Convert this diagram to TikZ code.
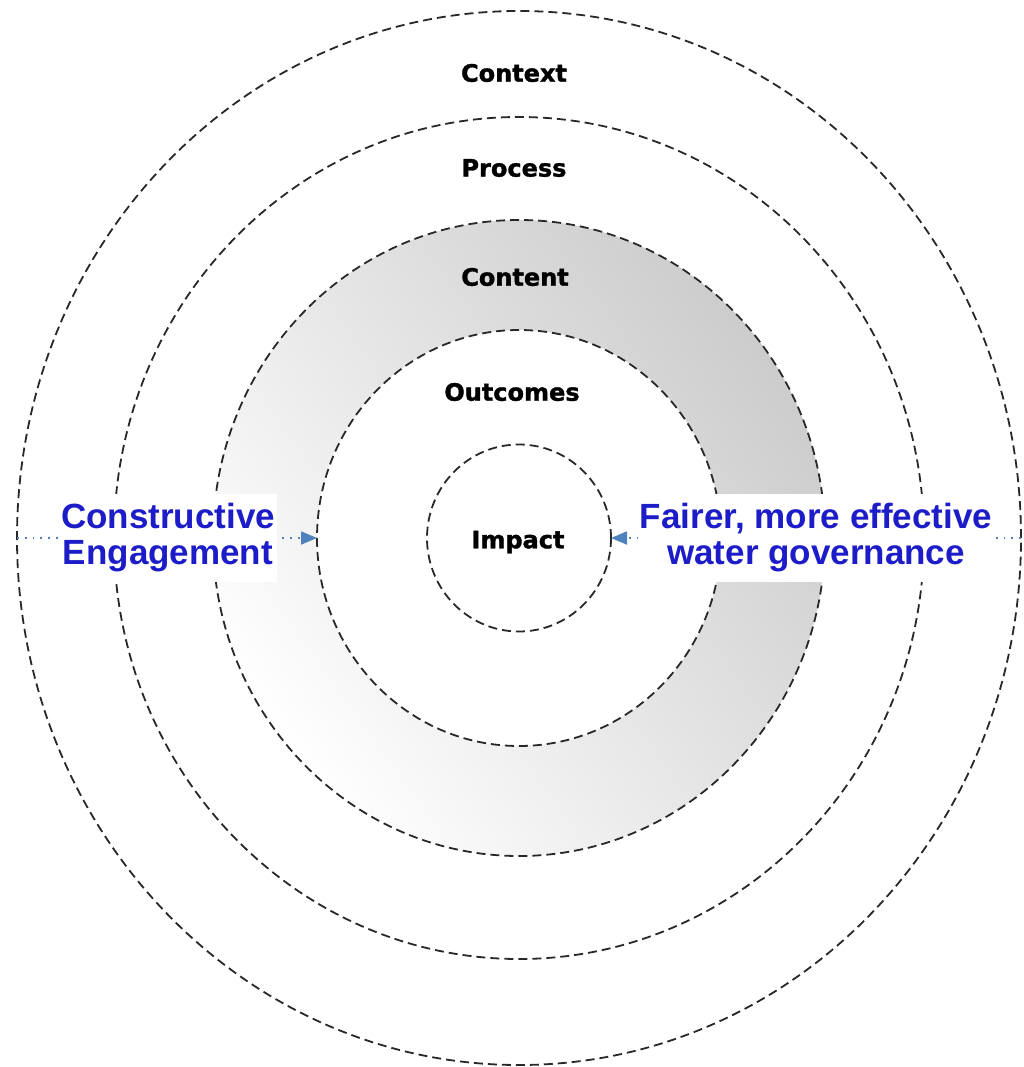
\documentclass[tikz,border=0pt]{standalone}
\usepackage{fontspec}
\setmainfont{Liberation Sans}
\newfontfamily\heavyfont[FakeBold=1.4]{DejaVu Sans Bold}
\usetikzlibrary{positioning, arrows.meta, shapes.geometric}
\definecolor{ringline}{RGB}{40,40,40}
\definecolor{callblue}{RGB}{28,28,200}
\definecolor{arrowblue}{RGB}{79,129,189}
\tikzset{
    ringnode/.style  = {draw=ringline, ellipse, line width=1.8pt, inner sep=0pt,
                        outer sep=0pt, dash pattern=on 9pt off 5pt},
    layerlbl/.style  = {font=\heavyfont\fontsize{24}{30}\selectfont, inner sep=1pt},
    calllbl/.style   = {font=\bfseries\fontsize{35}{36}\selectfont, text=callblue,
                        fill=white, align=center, inner xsep=2pt, inner ysep=10pt},
    pointer/.style   = {arrowblue, line width=1.8pt, dash pattern=on 1.8pt off 6pt,
                        -{Triangle[length=16pt, width=13pt]}},
}

\begin{document}
\begin{tikzpicture}[x=1pt, y=-1pt]
\useasboundingbox (0,0) rectangle (1023,1067);
\coordinate (ctr) at (519,538);

% shaded content band
\shade[top color=black!20, bottom color=white, shading angle=-54]
    (ctr) ellipse [x radius=306, y radius=318];
\fill[white] (ctr) ellipse [x radius=202, y radius=208];

% rings
\node[ringnode, minimum width=1004pt, minimum height=1054pt] (context)  at (ctr) {};
\node[ringnode, minimum width=810pt,  minimum height=842pt]  (process)  at (ctr) {};
\node[ringnode, minimum width=612pt,  minimum height=636pt]  (content)  at (ctr) {};
\node[ringnode, minimum width=404pt,  minimum height=416pt]  (outcomes) at (ctr) {};
\node[ringnode, minimum width=184pt,  minimum height=187pt]  (impact)   at (ctr) {};

% ring labels
\node[layerlbl] (contextlbl)  at (514,73)  {Context};
\node[layerlbl] (processlbl)  at (514,168) {Process};
\node[layerlbl] (contentlbl)  at (515,277) {Content};
\node[layerlbl] (outcomeslbl) at (512,392) {Outcomes};
\node[layerlbl] (impactlbl)   at (518,542) {Impact};

% pointers
\draw[pointer] (context.west) -- (outcomes.west);
\draw[pointer] (context.east) -- (impact.east);

\node[calllbl] (engage) at (168,538) {Constructive\\Engagement};
\node[calllbl] (govern) at (816,538) {Fairer, more effective\\water governance};

\end{tikzpicture}
\end{document}
